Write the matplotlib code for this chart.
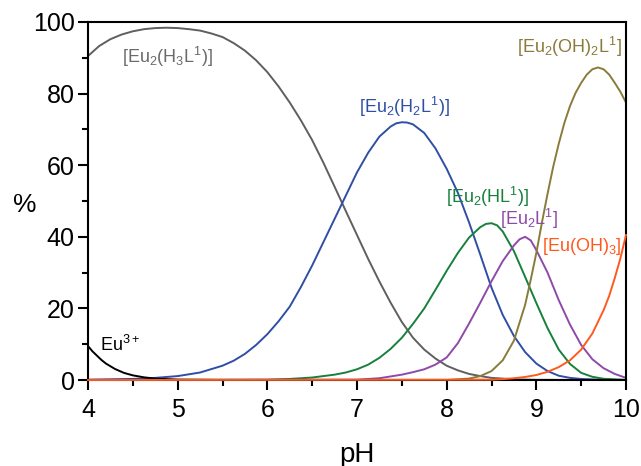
import numpy as np
import matplotlib
matplotlib.use("Agg")
import matplotlib.pyplot as plt

plt.rcParams['font.family'] = ['Liberation Sans', 'DejaVu Sans']
plt.rcParams['mathtext.fontset'] = 'custom'
plt.rcParams['mathtext.rm'] = 'Liberation Sans'
plt.rcParams['mathtext.it'] = 'Liberation Sans'
plt.rcParams['mathtext.default'] = 'regular'

# species distribution (pH, %)
ph_eu = [4.0, 4.05, 4.1, 4.15, 4.2, 4.3, 4.4, 4.5, 4.625, 4.75, 5.0, 5.5, 6.0]
pct_eu = [9.5, 8.0, 6.8, 5.6, 4.6, 3.1, 2.0, 1.3, 0.75, 0.4, 0.1, 0.0, 0.0]

ph_h3l = [4.0, 4.125, 4.25, 4.375, 4.5, 4.625, 4.75, 4.875, 5.0, 5.125, 5.25,
          5.375, 5.5, 5.625, 5.75, 5.875, 6.0, 6.125, 6.25, 6.375, 6.5, 6.625,
          6.75, 6.875, 7.0, 7.125, 7.25, 7.375, 7.5, 7.625, 7.75, 7.875, 8.0,
          8.125, 8.25, 8.375, 8.5, 8.75, 9.0, 10.0]
pct_h3l = [90.5, 93.3, 95.2, 96.5, 97.4, 98.0, 98.3, 98.4, 98.3, 98.0, 97.6,
           96.8, 95.8, 94.1, 92.0, 89.3, 86.0, 82.0, 77.5, 72.5, 67.0, 60.7,
           54.0, 47.2, 40.5, 33.8, 27.5, 21.6, 16.2, 11.8, 8.5, 6.0, 4.0,
           2.7, 1.7, 1.1, 0.6, 0.2, 0.05, 0.0]

ph_h2l = [4.0, 4.25, 4.5, 4.75, 5.0, 5.25, 5.5, 5.625, 5.75, 5.875, 6.0, 6.125,
          6.25, 6.375, 6.5, 6.625, 6.75, 6.875, 7.0, 7.125, 7.25, 7.375, 7.4375,
          7.5, 7.5625, 7.625, 7.75, 7.875, 8.0, 8.125, 8.25, 8.375, 8.5, 8.625,
          8.75, 8.875, 9.0, 9.125, 9.25, 9.375, 9.5, 9.75, 10.0]
pct_h2l = [0.1, 0.2, 0.3, 0.6, 1.1, 2.1, 4.0, 5.4, 7.3, 9.8, 12.8, 16.4,
           20.5, 26.0, 32.0, 38.5, 45.0, 51.5, 58.0, 63.5, 68.0, 70.8, 71.7,
           72.0, 71.9, 71.4, 69.0, 64.7, 59.0, 52.3, 44.0, 35.0, 25.8, 18.2,
           12.3, 7.8, 4.6, 2.5, 1.2, 0.6, 0.3, 0.05, 0.0]

ph_hl = [4.0, 6.0, 6.25, 6.5, 6.75, 6.875, 7.0, 7.125, 7.25, 7.375, 7.5, 7.625,
         7.75, 7.875, 8.0, 8.125, 8.25, 8.375, 8.4375, 8.5, 8.5625, 8.625, 8.75,
         8.875, 9.0, 9.125, 9.25, 9.375, 9.5, 9.625, 9.75, 10.0]
pct_hl = [0.0, 0.1, 0.3, 0.7, 1.5, 2.1, 3.0, 4.3, 6.2, 8.7, 11.8, 15.7,
          20.0, 25.2, 30.5, 35.5, 39.8, 42.7, 43.6, 43.8, 43.2, 41.5, 36.0,
          28.8, 21.5, 14.5, 8.5, 4.5, 2.0, 0.9, 0.35, 0.05]

ph_l = [4.0, 7.0, 7.25, 7.5, 7.625, 7.75, 7.875, 8.0, 8.125, 8.25, 8.375, 8.5,
        8.625, 8.75, 8.8125, 8.875, 8.9375, 9.0, 9.125, 9.25, 9.375, 9.5,
        9.625, 9.75, 9.875, 10.0]
pct_l = [0.0, 0.1, 0.5, 1.5, 2.2, 3.0, 4.3, 6.3, 10.3, 15.8, 21.6, 27.6,
         33.2, 37.6, 39.3, 40.0, 39.0, 36.3, 30.0, 22.3, 15.5, 9.8,
         5.8, 3.3, 1.7, 0.6]

ph_oh2l = [4.0, 8.0, 8.25, 8.375, 8.5, 8.625, 8.75, 8.875, 8.9375, 9.0, 9.0625,
           9.125, 9.1875, 9.25, 9.3125, 9.375, 9.4375, 9.5, 9.5625, 9.625,
           9.6875, 9.75, 9.8125, 9.875, 9.9375, 10.0]
pct_oh2l = [0.0, 0.0, 0.4, 1.1, 2.5, 5.5, 11.0, 21.0, 28.0, 35.5, 44.0,
            52.0, 59.5, 66.0, 71.8, 76.5, 80.2, 83.0, 85.3, 86.8,
            87.3, 86.8, 85.3, 83.0, 80.5, 77.5]

ph_oh3 = [4.0, 8.5, 8.625, 8.75, 8.875, 9.0, 9.125, 9.25, 9.375, 9.5, 9.625,
          9.75, 9.8125, 9.875, 9.9375, 10.0]
pct_oh3 = [0.0, 0.1, 0.25, 0.5, 0.85, 1.4, 2.3, 3.6, 5.5, 8.5, 13.0,
           19.5, 23.5, 28.5, 34.0, 40.5]

fig = plt.figure(figsize=(6.41, 4.66), dpi=100)
ax = fig.add_axes([0.1373, 0.1845, 0.8393, 0.7683])

lw = 1.4
ax.plot(ph_oh3, pct_oh3, color='#ff5a1e', lw=lw, clip_on=False, zorder=3)
ax.plot(ph_h3l, pct_h3l, color='#5f5f5f', lw=lw)
ax.plot(ph_h2l, pct_h2l, color='#2f4fa6', lw=lw)
ax.plot(ph_hl, pct_hl, color='#17803c', lw=lw)
ax.plot(ph_l, pct_l, color='#8e4aa8', lw=lw)
ax.plot(ph_oh2l, pct_oh2l, color='#8a7b3a', lw=lw)
ax.plot(ph_eu, pct_eu, color='black', lw=lw)

fs = 13
ax.text(4.38, 90.2, r'[Eu$_2$(H$_3$L$^1$)]', color='#6a6a6a', fontsize=fs, va='center')
ax.text(7.02, 76.3, r'[Eu$_2$(H$_2$L$^1$)]', color='#2f4fa6', fontsize=fs, va='center')
ax.text(8.78, 93.0, r'[Eu$_2$(OH)$_2$L$^1$]', color='#8a7b3a', fontsize=fs, va='center')
ax.text(7.99, 51.0, r'[Eu$_2$(HL$^1$)]', color='#17803c', fontsize=fs, va='center')
ax.text(8.59, 45.0, r'[Eu$_2$L$^1$]', color='#8e4aa8', fontsize=fs, va='center')
ax.text(9.06, 37.2, r'[Eu(OH)$_3$]', color='#ff5a1e', fontsize=fs, va='center')
ax.text(4.13, 9.8, r'Eu$^{3+}$', color='black', fontsize=fs, va='center')

ax.set_xlim(4, 10)
ax.set_ylim(0, 100)
ax.set_xticks([4, 5, 6, 7, 8, 9, 10])
ax.set_xticks(np.arange(4.5, 10, 1.0), minor=True)
ax.set_yticks([0, 20, 40, 60, 80, 100])
ax.set_yticks([10, 30, 50, 70, 90], minor=True)
ax.tick_params(which='major', direction='out', length=7, width=1.5, labelsize=18)
ax.tick_params(which='minor', direction='out', length=4.5, width=1.5)
ax.tick_params(axis='x', which='major', pad=6)
ax.tick_params(axis='y', which='major', pad=2.5)
for s in ax.spines.values():
    s.set_linewidth(1.5)

ax.set_xlabel('pH', fontsize=20, labelpad=14)
fig.text(25 / 641, 1 - 205 / 466, '%', fontsize=19, ha='center', va='center')

fig.savefig('out.png', dpi=100)
